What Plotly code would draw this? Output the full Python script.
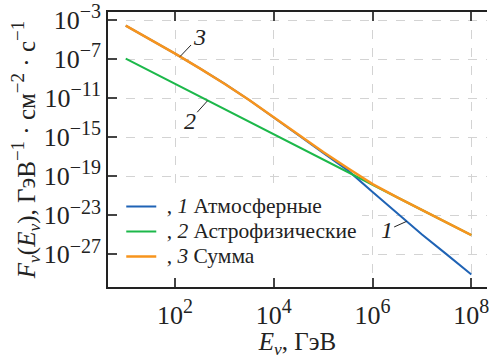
import numpy as np
import plotly.graph_objects as go

# Energy grid, GeV
energy_blue = [1e1, 10**1.5, 1e2, 10**2.5, 1e3, 10**3.5, 1e4, 10**4.5, 1e5,
               10**5.5, 1e6, 10**6.5, 1e7, 10**7.5, 1e8]
# Atmospheric neutrino flux, GeV^-1 cm^-2 s^-1
flux_atm = [2.7e-4, 1.0e-5, 3.6e-7, 1.1e-8, 3.0e-10, 6.5e-12, 1.1e-13, 1.6e-15,
            2.5e-17, 4.0e-19, 2.5e-21, 1.6e-23, 1.1e-25, 1.0e-27, 8.9e-30]

energy_green = [1e1, 1e2, 1e3, 1e4, 1e5, 1e6, 1e7, 1e8]
# Astrophysical neutrino flux
flux_astro = [1.1e-7, 2.8e-10, 7.5e-13, 2.0e-15, 5.0e-18, 1.3e-20, 3.5e-23, 9.5e-26]

# Total flux on the atmospheric energy grid
le_b = np.log10(energy_blue)
astro_on_grid = 10 ** np.interp(le_b, np.log10(energy_green), np.log10(flux_astro))
flux_sum = (np.array(flux_atm) + astro_on_grid).tolist()

FONT = "Liberation Serif"
SUP = "<sup><span style='font-size:{}px'>{}</span></sup>"

x_exps = [2, 4, 6, 8]
x_tickvals = [10.0 ** e for e in x_exps]
x_ticktext = ["10" + SUP.format(20, e) for e in x_exps]
y_exps = [-3, -7, -11, -15, -19, -23, -27]
y_tickvals = [10.0 ** e for e in y_exps]
y_ticktext = ["10" + SUP.format(20, f"−{abs(e)}") for e in y_exps]

LEG = "<span style='font-size:21.5px'>\u00a0, <i>{}</i> {}</span>"
legend_names = [LEG.format(1, "Атмосферные"), LEG.format(2, "Астрофизические"),
                LEG.format(3, "Сумма")]
colors = ["#1f63b5", "#1cb84a", "#f7941d"]

fig = go.Figure()
fig.add_trace(go.Scatter(x=energy_blue, y=flux_atm, mode="lines", name=legend_names[0],
                         line=dict(color=colors[0], width=2)))
fig.add_trace(go.Scatter(x=energy_green, y=flux_astro, mode="lines", name=legend_names[1],
                         line=dict(color=colors[1], width=2)))
fig.add_trace(go.Scatter(x=energy_blue, y=flux_sum, mode="lines", name=legend_names[2],
                         line=dict(color=colors[2], width=2.5)))


def on_curve(xs, ys, logx):
    return 10 ** np.interp(logx, np.log10(xs), np.log10(ys))


labels = [
    ("3", 2.1, energy_blue, flux_sum, 19, -20),
    ("2", 2.66, energy_green, flux_astro, -18, 20),
    ("1", 6.69, energy_blue, flux_atm, -20, 9),
]
for txt, lx, xs, ys, ax, ay in labels:
    fig.add_annotation(x=lx, y=np.log10(on_curve(xs, ys, lx)), xref="x", yref="y",
                       text=f"<i>{txt}</i>", showarrow=True, arrowhead=0, arrowwidth=1,
                       arrowcolor="#222", ax=ax, ay=ay, standoff=0,
                       font=dict(family=FONT, size=24, color="#222"))

axis_common = dict(type="log", showline=True, linecolor="#222", linewidth=1.5,
                   ticks="inside", tickcolor="#444", tickwidth=1.5,
                   showgrid=True, gridcolor="#d3d3d3", griddash="dash", gridwidth=1,
                   zeroline=False, tickfont=dict(family=FONT, size=26, color="#222"))

ytitle = ("<i>F</i><sub><i>ν</i></sub>(<i>E</i><sub><i>ν</i></sub>), "
          "ГэВ" + SUP.format(19, "−1") + " · см" + SUP.format(19, "−2")
          + " · с" + SUP.format(19, "−1"))

fig.update_layout(
    width=489, height=359,
    margin=dict(l=108, r=0, t=5, b=70),
    paper_bgcolor="white", plot_bgcolor="white",
    xaxis=dict(**axis_common, range=[0.641, 8.317], tickmode="array",
               tickvals=x_tickvals, ticktext=x_ticktext, ticklen=9, mirror="ticks",
               ticklabeloverflow="allow", ticklabelstandoff=4,
               title=dict(text="<i>E</i><sub><i>ν</i></sub>, ГэВ",
                          font=dict(family=FONT, size=25, color="#222"), standoff=12)),
    yaxis=dict(**axis_common, range=[-30.34, -2.18], tickmode="array",
               tickvals=y_tickvals, ticktext=y_ticktext, ticklen=9,
               ticklabeloverflow="allow",
               title=dict(text=ytitle,
                          font=dict(family=FONT, size=25, color="#222"), standoff=0)),
    yaxis2=dict(type="log", overlaying="y", side="right", range=[-30.34, -2.18],
                tickmode="array", tickvals=y_tickvals, showticklabels=False,
                ticks="inside", ticklen=9, tickcolor="#444", tickwidth=1.5,
                showgrid=False, showline=False, zeroline=False),
    legend=dict(x=0.035, y=0.357, xanchor="left", yanchor="top",
                bgcolor="rgba(255,255,255,1)", borderwidth=0,
                font=dict(family=FONT, size=17, color="#222"), tracegroupgap=0),
    showlegend=True,
)

fig.write_html("out.html")
